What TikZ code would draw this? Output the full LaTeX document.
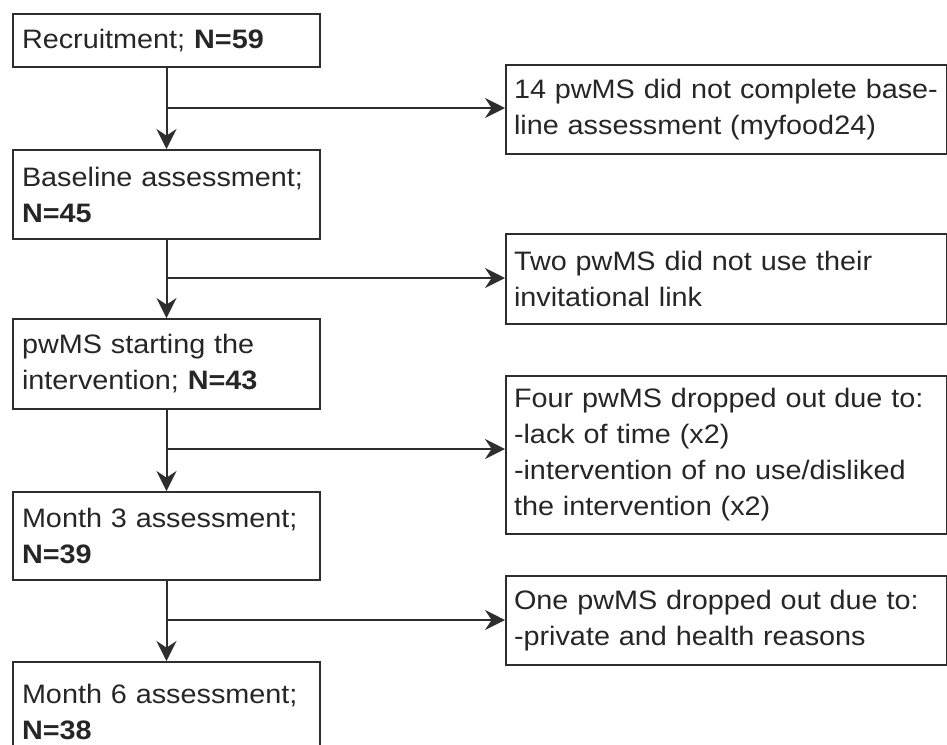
\documentclass[tikz,border=0pt]{standalone}
\usepackage{fontspec}
\setmainfont{Liberation Sans}[FakeStretch=1.08]
\usepackage{xcolor}
\usepackage{tikz}
\usetikzlibrary{positioning,arrows.meta}
\definecolor{ink}{HTML}{262626}
\definecolor{rule}{HTML}{2E2E2E}
\tikzset{
  stage/.style={rectangle, draw=rule, line width=1.5pt, text=ink, anchor=north west,
    text width=216.75pt, inner xsep=6.75pt, inner ysep=0pt, minimum width=230.25pt,
    align=left, font=\fontsize{20}{27}\selectfont},
  excl/.style={stage, text width=318.75pt, inner xsep=6pt, minimum width=330.75pt},
  flow/.style={draw=rule, line width=1.5pt, -{Stealth[length=15pt, width=15pt, inset=5pt]}},
}

\begin{document}
\begin{tikzpicture}[x=0.75pt, y=-0.75pt]
\useasboundingbox (0,0) rectangle (947,744);
% main stages
\node[stage, minimum height=39.75pt] (rec) at (12,13) {Recruitment; \textbf{N=59}};
\node[stage, minimum height=66.75pt] (base) at (12,149) {Baseline assessment;\\ \textbf{N=45}};
\node[stage, minimum height=67.5pt] (start) at (12,318) {pwMS starting the\\ intervention; \textbf{N=43}};
\node[stage, minimum height=66pt] (mthree) at (12,491) {Month 3 assessment;\\ \textbf{N=39}};
\node[stage, minimum height=75pt] (msix) at (12,661) {Month 6 assessment;\\ \textbf{N=38}};
% exclusions
\node[excl, minimum height=66.75pt] (exone) at (505,64) {14 pwMS did not complete base-\\ line assessment (myfood24)};
\node[excl, minimum height=67.5pt] (extwo) at (505,233) {Two pwMS did not use their\\ invitational link};
\node[excl, minimum height=118.5pt] (exthree) at (505,375) {Four pwMS dropped out due to:\\ -lack of time (x2)\\ -intervention of no use/disliked\\ the intervention (x2)};
\node[excl, minimum height=66.75pt] (exfour) at (505,575) {One pwMS dropped out due to:\\ -private and health reasons};
% branch points
\coordinate (brone) at (166,108);
\coordinate (brtwo) at (166,278);
\coordinate (brthree) at (166,449);
\coordinate (brfour) at (166,620);
% arrows
\draw[flow] (rec.south) -- (base.north);
\draw[flow] (base.south) -- (start.north);
\draw[flow] (start.south) -- (mthree.north);
\draw[flow] (mthree.south) -- (msix.north);
\draw[flow] (brone) -- (exone.west |- brone);
\draw[flow] (brtwo) -- (extwo.west |- brtwo);
\draw[flow] (brthree) -- (exthree.west |- brthree);
\draw[flow] (brfour) -- (exfour.west |- brfour);
\end{tikzpicture}
\end{document}
